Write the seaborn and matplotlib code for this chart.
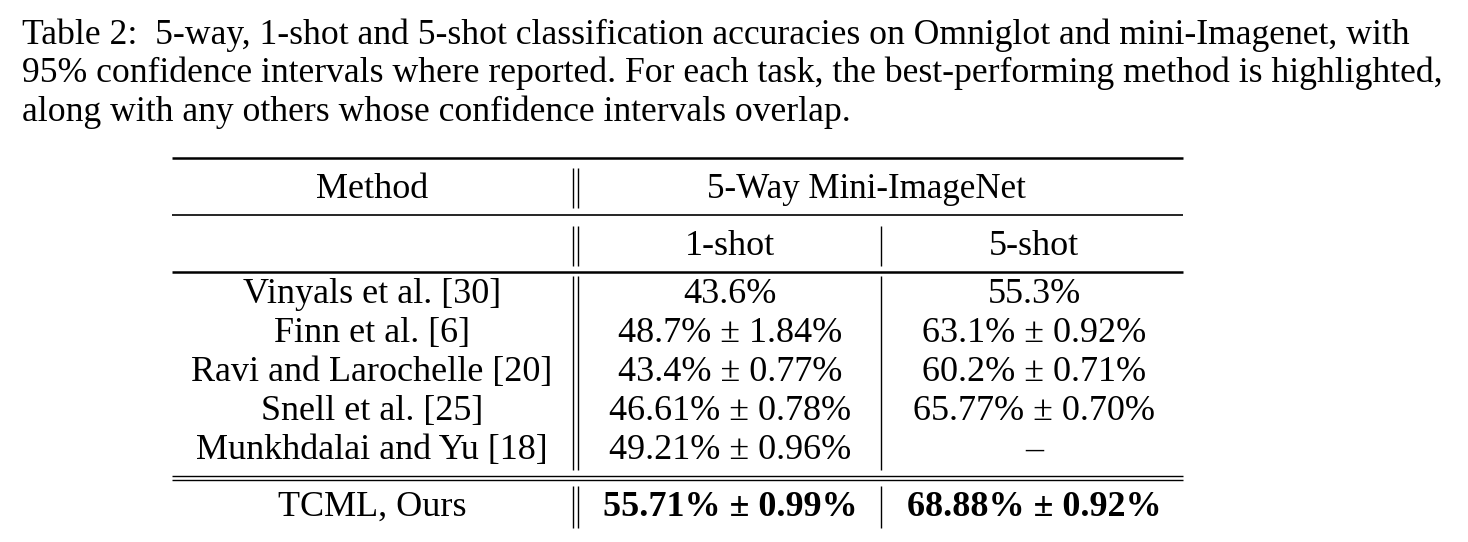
import matplotlib
matplotlib.use("Agg")
import matplotlib.pyplot as plt
import seaborn as sns

# Table contents
caption = [
    "Table 2:  5-way, 1-shot and 5-shot classification accuracies on Omniglot and mini-Imagenet, with",
    "95% confidence intervals where reported. For each task, the best-performing method is highlighted,",
    "along with any others whose confidence intervals overlap.",
]
methods = ["Vinyals et al. [30]", "Finn et al. [6]", "Ravi and Larochelle [20]",
           "Snell et al. [25]", "Munkhdalai and Yu [18]"]
one_shot = ["43.6%", "48.7% ± 1.84%", "43.4% ± 0.77%", "46.61% ± 0.78%", "49.21% ± 0.96%"]
five_shot = ["55.3%", "63.1% ± 0.92%", "60.2% ± 0.71%", "65.77% ± 0.70%", "–"]
ours_method = "TCML, Ours"
ours_one = "55.71% ± 0.99%"
ours_five = "68.88% ± 0.92%"
group_header = "5-Way Mini-ImageNet"
sub_headers = ["1-shot", "5-shot"]

sns.set_theme(style="white")
plt.rcParams['font.family'] = ['Liberation Serif', 'DejaVu Serif']
plt.rcParams['text.color'] = 'black'

W, H = 1468, 542
fig = plt.figure(figsize=(W / 100, H / 100), dpi=100)
ax = fig.add_axes([0, 0, 1, 1])
ax.set_xlim(0, W)
ax.set_ylim(H, 0)
ax.axis("off")

fs_cap = 25.7
fs = 26
kw = dict(ha="center", va="baseline", color="black")

# caption
for i, line in enumerate(caption):
    ax.text(22, 44 + i * 38.5, line, fontsize=fs_cap, ha="left", va="baseline", color="black")

# column centres
cx_m, cx_1, cx_5 = 372, 730, 1034
x0, x1 = 172, 1183

# horizontal rules
ax.hlines(158, x0, x1, color="black", lw=1.8)
ax.hlines(215, x0, x1, color="black", lw=1.2)
ax.hlines(272, x0, x1, color="black", lw=1.8)
ax.hlines(476, x0, x1, color="black", lw=1.0)
ax.hlines(480, x0, x1, color="black", lw=1.0)

# vertical double line and single separator
for xv in (573, 578):
    ax.vlines(xv, 168, 208, color="black", lw=1.0)
    ax.vlines(xv, 226, 266, color="black", lw=1.0)
    ax.vlines(xv, 276, 470, color="black", lw=1.0)
    ax.vlines(xv, 486, 528, color="black", lw=1.0)
ax.vlines(881, 226, 266, color="black", lw=1.0)
ax.vlines(881, 276, 470, color="black", lw=1.0)
ax.vlines(881, 486, 528, color="black", lw=1.0)

# headers
ax.text(cx_m, 198, "Method", fontsize=fs, **kw)
ax.text(866, 198, group_header, fontsize=fs - 0.8, **kw)
ax.text(cx_1, 255, sub_headers[0], fontsize=fs, **kw)
ax.text(cx_5, 255, sub_headers[1], fontsize=fs, **kw)

# body rows
row_y0, row_dy = 303, 39
for i, (m, a, b) in enumerate(zip(methods, one_shot, five_shot)):
    y = row_y0 + i * row_dy
    ax.text(cx_m, y, m, fontsize=fs, **kw)
    ax.text(cx_1, y, a, fontsize=fs, **kw)
    ax.text(cx_5, y, b, fontsize=fs, **kw)

# our row (bold values)
ax.text(cx_m, 516, ours_method, fontsize=fs, **kw)
ax.text(cx_1, 516, ours_one, fontsize=fs, fontweight="bold", **kw)
ax.text(cx_5, 516, ours_five, fontsize=fs, fontweight="bold", **kw)

fig.savefig("out.png", dpi=100, facecolor="white")
